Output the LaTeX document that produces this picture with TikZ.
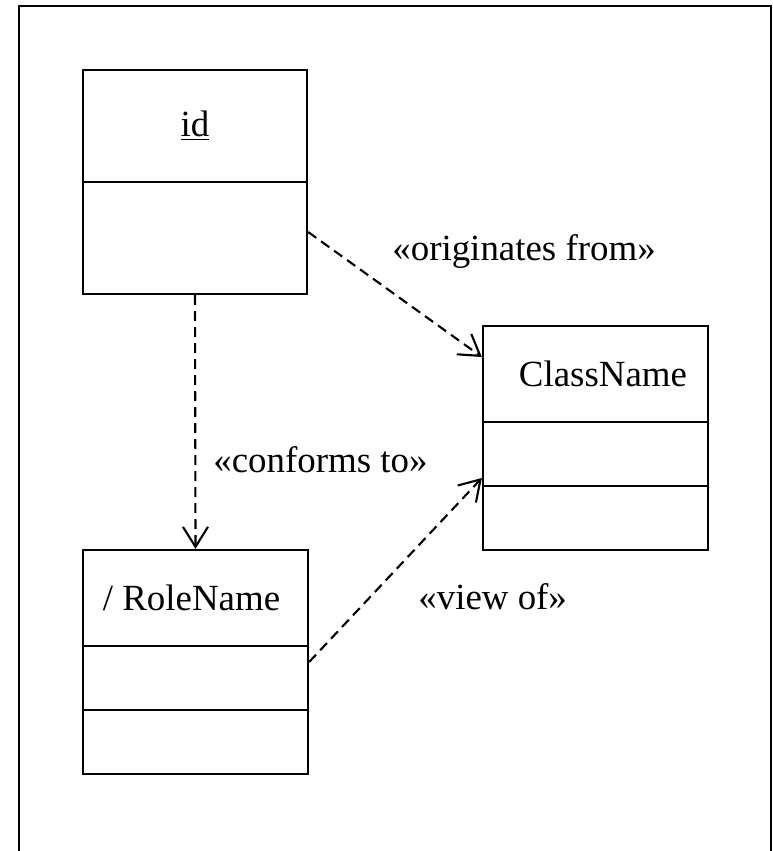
\documentclass[tikz,border=0pt]{standalone}
\usepackage{fontspec}
\setmainfont{Liberation Serif}
\usepackage{tikz}
\usetikzlibrary{arrows.meta,calc}

\begin{document}
\begin{tikzpicture}[x=0.02cm, y=-0.02cm, >={Straight Barb[length=0.4cm, width=0.5cm]},
    box/.style={draw, line width=1.3pt, inner sep=0pt},
    txt/.style={font=\fontsize{21}{25}\selectfont, inner sep=0pt},
    dep/.style={->, line width=1.2pt, dash pattern=on 0.2cm off 0.12cm}]
    \useasboundingbox (0,0) rectangle (773,851);

    \draw[line width=1.4pt] (19,870) |- (771,6) -- (771,870);

    % classes
    \node[box, minimum width=224*0.02cm, minimum height=224*0.02cm] (idbox) at (195,182) {};
    \draw[line width=1.3pt] (idbox.west |- 0,182) -- (idbox.east |- 0,182);
    \node[txt] (idname) at (195,126) {\underline{id}};

    \node[box, minimum width=225*0.02cm, minimum height=224*0.02cm] (cls) at (595.5,438) {};
    \draw[line width=1.3pt] (cls.west |- 0,422) -- (cls.east |- 0,422);
    \draw[line width=1.3pt] (cls.west |- 0,486) -- (cls.east |- 0,486);
    \node[txt] (clsname) at (603,374) {ClassName};

    \node[box, minimum width=225*0.02cm, minimum height=224*0.02cm] (role) at (195.5,662) {};
    \draw[line width=1.3pt] (role.west |- 0,646) -- (role.east |- 0,646);
    \draw[line width=1.3pt] (role.west |- 0,710) -- (role.east |- 0,710);
    \node[txt] (rolename) at (191.5,598) {/ RoleName};

    % dependencies
    \draw[dep] ($(idbox.east)+(0,50)$) -- ($(cls.west)+(0,-81)$);
    \draw[dep] (idbox.south) -- (role.north);
    \draw[dep] (role.east) -- ($(cls.west)+(0,40)$);

    \node[txt, anchor=base west] (orig) at (392,260) {«originates from»};
    \node[txt, anchor=base west] (conf) at (213,472) {«conforms to»};
    \node[txt, anchor=base west] (view) at (418,609) {«view of»};
\end{tikzpicture}
\end{document}
